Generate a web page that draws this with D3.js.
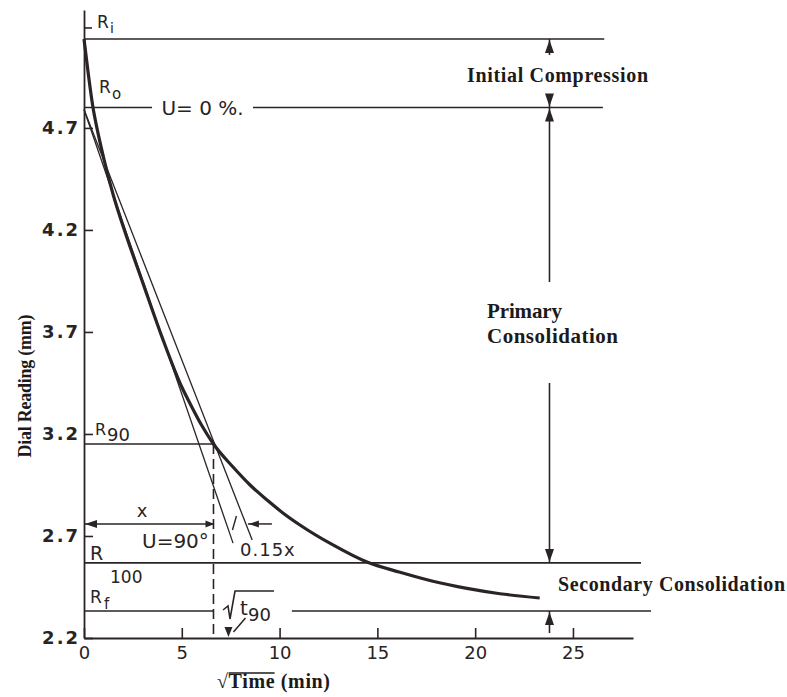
<!DOCTYPE html>
<html>
<head>
<meta charset="utf-8">
<script src="https://cdn.jsdelivr.net/npm/d3@7"></script>
<style>
  body { margin: 0; background: #fff; }
  .hand { font-family: 'DejaVu Sans', sans-serif; fill: #2a2323; }
  .book { font-family: 'Liberation Serif', 'Times New Roman', serif; fill: #1d1a1a; font-weight: bold; }
</style>
</head>
<body>
<svg id="chart" width="787" height="697"></svg>
<script>
// values
const xTicks = [0, 5, 10, 15, 20, 25]
const yTicks = [2.2, 2.7, 3.2, 3.7, 4.2, 4.7]

// the measured consolidation curve (sqrt of time vs dial reading)
const sqrtTime = [0, 0.2, 0.46, 0.66, 1.0, 1.5, 2.0, 3.0, 4.0, 5.0, 5.5, 6.0, 6.62, 7.62, 8.49, 9.36, 10.17, 11.04, 12.73, 14.47, 16.16, 17.84, 19.58, 21.27, 23.3]
const dialReading = [5.136, 4.98, 4.80, 4.70, 4.555, 4.37, 4.218, 3.943, 3.672, 3.43, 3.335, 3.245, 3.151, 3.038, 2.95, 2.876, 2.813, 2.754, 2.656, 2.572, 2.522, 2.478, 2.443, 2.417, 2.396]

// reference readings
const levelNames = ['Ri', 'R0', 'R90', 'R100', 'Rf']
const levelReadings = [5.136, 4.80, 3.151, 2.568, 2.332]

// Taylor construction: initial tangent and the 1.15x line
const tangentStart = [0, 4.79]
const tangentEnd = [7.62, 2.665]
const tangent115End = [8.6, 2.68]
const t90 = 6.62
const xArrowReading = 2.759

const ink = '#2b2424'
const svg = d3.select('#chart')

const x = d3.scaleLinear().domain([0, 28.07]).range([84, 633])
const y = d3.scaleLinear().domain([2.2, 5.278]).range([638, 10])
const level = name => levelReadings[levelNames.indexOf(name)]

// where each reference line is drawn (in sqrt time units)
const levelSegments = {
  Ri: [[0, 26.6]],
  R0: [[0, 3.48], [8.64, 26.53]],
  R90: [[0, t90]],
  R100: [[0, 28.48]],
  Rf: [[0, t90], [10.63, 28.99]]
}

const xAxis = g => g
  .attr('transform', `translate(0,${y(2.2)})`)
  .call(d3.axisBottom(x).tickValues(xTicks).tickSize(-10).tickSizeOuter(0).tickPadding(8))
  .call(g => g.selectAll('path, line').attr('stroke', ink).attr('stroke-width', 1.6))
  .call(g => g.selectAll('text').attr('class', 'hand').attr('font-size', 18).attr('fill', ink))

const yAxis = g => g
  .attr('transform', `translate(${x(0)},0)`)
  .call(d3.axisLeft(y).tickValues(yTicks).tickSize(-9).tickSizeOuter(0).tickPadding(4).tickFormat(d3.format('.1f')))
  .call(g => g.selectAll('path, line').attr('stroke', ink).attr('stroke-width', 1.6))
  .call(g => g.selectAll('text').attr('class', 'hand').attr('font-size', 18)
    .attr('letter-spacing', 2).attr('fill', ink).attr('font-weight', 'bold'))

svg.append('g').call(xAxis)
svg.append('g').call(yAxis)
svg.selectAll('.domain').attr('stroke-width', 1.8)

// reference lines
const lines = svg.append('g').attr('stroke', ink).attr('stroke-width', 1.6)
levelNames.forEach(name => {
  levelSegments[name].forEach(([a, b]) => {
    lines.append('line')
      .attr('x1', x(a)).attr('x2', x(b))
      .attr('y1', y(level(name))).attr('y2', y(level(name)))
  })
})
// tick beside Ri
lines.append('line').attr('x1', x(0)).attr('x2', x(0) + 8).attr('y1', y(5.19)).attr('y2', y(5.19))

// t90 dashed line
svg.append('line')
  .attr('x1', x(t90)).attr('x2', x(t90))
  .attr('y1', y(level('R90'))).attr('y2', y(2.2))
  .attr('stroke', ink).attr('stroke-width', 1.6).attr('stroke-dasharray', '10,5')

// tangent lines
const tangents = [[tangentStart, tangentEnd], [tangentStart, tangent115End]]
svg.append('g').selectAll('line').data(tangents).join('line')
  .attr('x1', d => x(d[0][0])).attr('y1', d => y(d[0][1]))
  .attr('x2', d => x(d[1][0])).attr('y2', d => y(d[1][1]))
  .attr('stroke', ink).attr('stroke-width', 1.3)

// curve
const curve = d3.line()
  .x((d, i) => x(sqrtTime[i]))
  .y(d => y(d))
  .curve(d3.curveMonotoneX)
svg.append('path')
  .attr('d', curve(dialReading))
  .attr('fill', 'none').attr('stroke', ink).attr('stroke-width', 3.2)
  .attr('stroke-linejoin', 'round')

// arrowheads
const arrowHead = (px, py, dir, len = 13, half = 4.5) => {
  const p = d3.path()
  const v = {up: [0, -1], down: [0, 1], left: [-1, 0], right: [1, 0]}[dir]
  const bx = px - v[0] * len, by = py - v[1] * len
  p.moveTo(px, py)
  p.lineTo(bx + v[1] * half, by - v[0] * half)
  p.lineTo(bx - v[1] * half, by + v[0] * half)
  p.closePath()
  svg.append('path').attr('d', p.toString()).attr('fill', ink)
}
const seg = (x1, y1, x2, y2, w = 1.6) => svg.append('line')
  .attr('x1', x1).attr('y1', y1).attr('x2', x2).attr('y2', y2)
  .attr('stroke', ink).attr('stroke-width', w)

// x and 0.15x dimension arrows
const tangentAt = (end, r) => tangentStart[0] + (tangentStart[1] - r) / (tangentStart[1] - end[1]) * (end[0] - tangentStart[0])
const xa = y(xArrowReading)
const t1 = x(tangentAt(tangentEnd, xArrowReading))
const t2 = x(tangentAt(tangent115End, xArrowReading))
seg(x(0), xa, x(t90), xa, 1.5)
arrowHead(x(0) + 1, xa, 'left', 12, 4)
arrowHead(x(t90) + 1, xa, 'right', 9, 3.5)
seg(t2 + 2, xa, t2 + 26, xa, 1.5)
arrowHead(t2 + 3, xa, 'left', 10, 3.5)
seg(t1 + 6, xa + 6, t1 + 10, xa - 8, 1.4)

// sqrt t90 pointer
const tip = [x(t90) + 15, y(2.2) - 1]
seg(tip[0] + 17, tip[1] - 19, tip[0] + 5, tip[1] - 5, 1.5)
arrowHead(tip[0], tip[1], 'down', 10, 4)

// right-hand arrows
const ax = x(23.8)
seg(ax, y(level('Ri')), ax, y(level('Ri')) + 16)
arrowHead(ax, y(level('Ri')) + 1, 'up')
arrowHead(ax, y(level('R0')) - 1, 'down')
seg(ax, y(level('R0')) - 12, ax, y(level('R0')))
arrowHead(ax, y(level('R0')) + 1, 'up')
seg(ax, y(level('R0')), ax, 282)
seg(ax, 383, ax, y(level('R100')))
arrowHead(ax, y(level('R100')) - 1, 'down')
seg(ax, y(level('Rf')), ax, y(2.2) - 5)
arrowHead(ax, y(level('Rf')) + 1, 'up')

// hand lettered labels
const hand = (txt, px, py, size, anchor = 'start') => svg.append('text')
  .attr('class', 'hand').attr('x', px).attr('y', py)
  .attr('font-size', size).attr('text-anchor', anchor).text(txt)

hand('R', 97, 28, 17); hand('i', 110, 33, 14)
hand('R', 99, 93, 17); hand('o', 112, 99, 15)
hand('U= 0 %.', (x(3.48) + x(8.64)) / 2, y(level('R0')) + 7, 20, 'middle')
hand('R', 95, 435, 16); hand('90', 107, 441, 18)
hand('x', 142, 517, 18, 'middle')
hand('U=90°', 142, 548, 20)
hand('0.15x', 240, 556, 18).attr('letter-spacing', 1)
hand('R', 90, 560, 19); hand('100', 110, 583, 17)
hand('R', 90, 603, 17); hand('f', 104, 609, 15)

// sqrt t90 label
const rad = d3.path()
rad.moveTo(223, 610); rad.lineTo(228, 606); rad.lineTo(230, 619); rad.lineTo(235, 591); rad.lineTo(274, 591)
svg.append('path').attr('d', rad.toString()).attr('fill', 'none').attr('stroke', ink).attr('stroke-width', 1.6)
hand('t', 240, 615, 20); hand('90', 248, 621, 18)

// book annotations
const book = (txt, px, py, size, len) => svg.append('text')
  .attr('class', 'book').attr('x', px).attr('y', py)
  .attr('font-size', size).attr('textLength', len).text(txt)

book('Initial Compression', 467, 82, 20, 181)
book('Primary', 487, 318, 21, 75).attr('font-weight', 'normal')
book('Consolidation', 487, 343, 21, 131).attr('font-weight', 'normal')
book('Secondary Consolidation', 558, 591, 20, 227)

// axis titles
svg.append('text')
  .attr('class', 'book')
  .attr('transform', 'translate(31,386) rotate(-90)')
  .attr('text-anchor', 'middle').attr('font-size', 18)
  .attr('textLength', 143)
  .text('Dial Reading (mm)')

const xTitle = svg.append('text')
  .attr('class', 'book').attr('x', 217).attr('y', 688)
  .attr('font-size', 20).attr('textLength', 113)
  .text('√Time (min)')
const node = xTitle.node()
svg.append('line')
  .attr('x1', node.getStartPositionOfChar(1).x).attr('x2', node.getEndPositionOfChar(4).x)
  .attr('y1', 673).attr('y2', 673)
  .attr('stroke', '#1d1a1a').attr('stroke-width', 1.4)
</script>
</body>
</html>
